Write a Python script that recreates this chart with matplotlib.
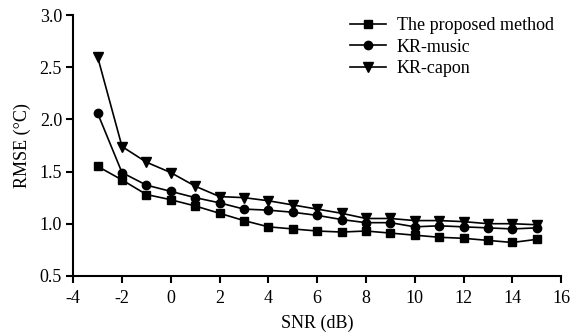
import matplotlib
matplotlib.use("Agg")
import matplotlib.pyplot as plt

snr = list(range(-3, 16))
proposed = [1.55, 1.42, 1.28, 1.23, 1.17, 1.10, 1.03, 0.97, 0.95, 0.93, 0.92, 0.93, 0.91, 0.89, 0.87, 0.86, 0.84, 0.82, 0.85]
kr_music = [2.06, 1.49, 1.37, 1.31, 1.25, 1.20, 1.14, 1.13, 1.11, 1.08, 1.04, 1.01, 1.01, 0.97, 0.98, 0.97, 0.96, 0.95, 0.96]
kr_capon = [2.60, 1.74, 1.59, 1.49, 1.36, 1.26, 1.25, 1.22, 1.18, 1.14, 1.10, 1.05, 1.05, 1.03, 1.03, 1.02, 1.00, 1.00, 0.99]
labels = ["The proposed method", "KR-music", "KR-capon"]
xticks = list(range(-4, 17, 2))
yticks = [0.5, 1.0, 1.5, 2.0, 2.5, 3.0]

plt.rcParams['font.family'] = ['Liberation Serif', 'DejaVu Serif']
fig = plt.figure(figsize=(5.72, 3.36), dpi=100)
ax = fig.add_axes([0.128, 0.179, 0.853, 0.776])

ax.plot(snr, proposed, color='black', marker='s', markersize=6, linewidth=1.2, label=labels[0])
ax.plot(snr, kr_music, color='black', marker='o', markersize=6, linewidth=1.2, label=labels[1])
ax.plot(snr, kr_capon, color='black', marker='v', markersize=7, linewidth=1.2, label=labels[2])

ax.set_xlim(-4, 16)
ax.set_ylim(0.5, 3.0)
ax.set_xticks(xticks)
ax.set_yticks(yticks)
ax.set_yticklabels([f"{v:.1f}" for v in yticks])
ax.set_xticklabels([str(v) for v in xticks])
for s in ['top', 'right']:
    ax.spines[s].set_visible(False)
for s in ['left', 'bottom']:
    ax.spines[s].set_linewidth(1.5)
ax.tick_params(axis='x', direction='out', length=5, width=1.5, labelsize=13, pad=5)
ax.tick_params(axis='y', direction='out', length=5, width=1.5, labelsize=13, pad=3)
ax.set_xlabel("SNR (dB)", fontsize=13, labelpad=6)
ax.set_ylabel("RMSE (°C)", fontsize=13, labelpad=6)

ax.legend(loc='upper right', bbox_to_anchor=(1.0, 1.02), frameon=False, fontsize=13,
          handlelength=2.0, labelspacing=0.25, handletextpad=0.6, borderaxespad=0.0)

fig.savefig("out.png", dpi=100)
